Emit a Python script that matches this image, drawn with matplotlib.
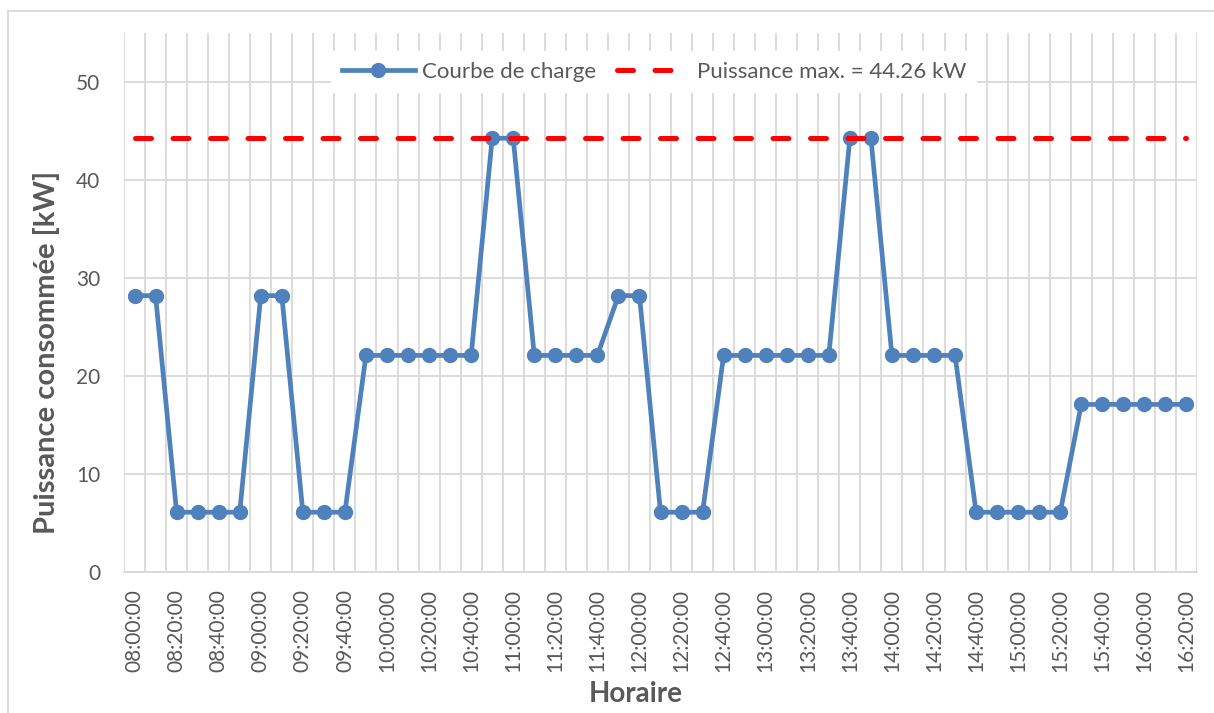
import matplotlib
matplotlib.use('Agg')
import matplotlib.pyplot as plt
from matplotlib.lines import Line2D

times = ["08:00:00", "08:10:00", "08:20:00", "08:30:00", "08:40:00", "08:50:00",
         "09:00:00", "09:10:00", "09:20:00", "09:30:00", "09:40:00", "09:50:00",
         "10:00:00", "10:10:00", "10:20:00", "10:30:00", "10:40:00", "10:50:00",
         "11:00:00", "11:10:00", "11:20:00", "11:30:00", "11:40:00", "11:50:00",
         "12:00:00", "12:10:00", "12:20:00", "12:30:00", "12:40:00", "12:50:00",
         "13:00:00", "13:10:00", "13:20:00", "13:30:00", "13:40:00", "13:50:00",
         "14:00:00", "14:10:00", "14:20:00", "14:30:00", "14:40:00", "14:50:00",
         "15:00:00", "15:10:00", "15:20:00", "15:30:00", "15:40:00", "15:50:00",
         "16:00:00", "16:10:00", "16:20:00"]

power = [28.2, 28.2, 6.1, 6.1, 6.1, 6.1, 28.2, 28.2, 6.1, 6.1, 6.1,
         22.1, 22.1, 22.1, 22.1, 22.1, 22.1, 44.26, 44.26,
         22.1, 22.1, 22.1, 22.1, 28.2, 28.2, 6.1, 6.1, 6.1,
         22.1, 22.1, 22.1, 22.1, 22.1, 22.1, 44.26, 44.26,
         22.1, 22.1, 22.1, 22.1, 6.1, 6.1, 6.1, 6.1, 6.1,
         17.1, 17.1, 17.1, 17.1, 17.1, 17.1]

p_max = 44.26
yticks = [0, 10, 20, 30, 40, 50]

series_label = "Courbe de charge"
max_label = "Puissance max. = 44.26 kW"
xlabel = "Horaire"
ylabel = "Puissance consommée [kW]"

TXT = '#595959'
GRID = '#D9D9D9'
BLUE = '#4F81BD'

W, H = 1214, 713
fig = plt.figure(figsize=(W / 100, H / 100), dpi=100)
ax = fig.add_axes([124 / W, 1 - 572 / H, 1073 / W, 539 / H])

x = list(range(len(times)))
ax.set_xlim(-0.5, len(times) - 0.5)
ax.set_ylim(0, 55)

ax.set_xticks([i - 0.5 for i in range(len(times) + 1)], minor=True)
ax.set_xticks(x[::2])
ax.set_xticklabels(times[::2], rotation=90, family='Lato', fontsize=15, color=TXT)
ax.set_yticks(yticks)
ax.set_yticklabels([str(v) for v in yticks], family='Lato', fontsize=15, color=TXT)
ax.tick_params(which='both', length=0)
ax.tick_params(axis='x', pad=12)
ax.tick_params(axis='y', pad=17)

ax.grid(which='minor', axis='x', color=GRID, lw=1.3, zorder=0)
ax.grid(which='major', axis='y', color=GRID, lw=1.3, zorder=0)
ax.grid(which='major', axis='x', visible=False)
ax.set_axisbelow(True)
for s in ['top', 'right', 'left']:
    ax.spines[s].set_visible(False)
ax.spines['bottom'].set_color(GRID)
ax.spines['bottom'].set_linewidth(1.3)

ax.plot(x, power, color=BLUE, lw=3.4, marker='o', markersize=10,
        markerfacecolor=BLUE, markeredgecolor=BLUE, zorder=3, solid_capstyle='round')
ax.plot(x, [p_max] * len(x), color='#FF0000', lw=3.6, dashes=(3.2, 4.3),
        dash_capstyle='round', zorder=4)

handles = [Line2D([], [], color=BLUE, lw=3.4, marker='o', markersize=10),
           Line2D([], [], color='#FF0000', lw=3.6, dashes=(3.2, 4.3), dash_capstyle='round')]
leg = ax.legend(handles, [series_label, max_label], loc='center',
                bbox_to_anchor=(654 / W, 1 - 72 / H), bbox_transform=fig.transFigure,
                ncol=2, frameon=True, fancybox=False, framealpha=1,
                facecolor='white', edgecolor='none', handlelength=3.3,
                handletextpad=0.3, columnspacing=0.95, borderpad=0.5,
                prop={'family': 'Lato', 'size': 16})
for t in leg.get_texts():
    t.set_color(TXT)

fig.text(636 / W, 1 - 694 / H, xlabel, ha='center', va='center', family='Lato',
         fontweight='bold', fontsize=20, color=TXT)
fig.text(47 / W, 1 - 352 / H, ylabel, ha='center', va='center', rotation=90,
         family='Lato', fontweight='bold', fontsize=21, color=TXT)

# outer chart border
fig.add_artist(Line2D([8 / W, 1.0], [1 - 11 / H, 1 - 11 / H], transform=fig.transFigure,
                      color=GRID, lw=1.3))
fig.add_artist(Line2D([8 / W, 8 / W], [1 - 11 / H, 0.0], transform=fig.transFigure,
                      color=GRID, lw=1.3))

fig.savefig('out.png', dpi=100, facecolor='white')
